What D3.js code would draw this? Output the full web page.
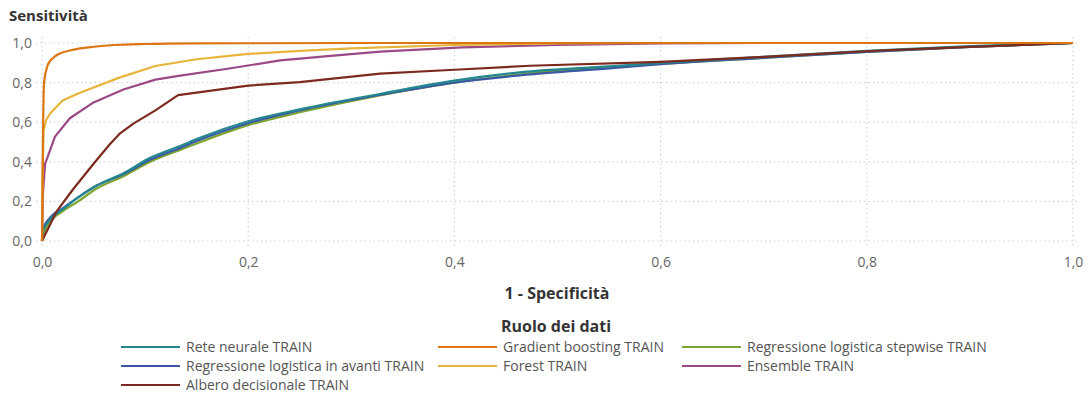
<!DOCTYPE html>
<html>
<head>
<meta charset="utf-8">
<script src="https://cdn.jsdelivr.net/npm/d3@7"></script>
<style>
  html, body { margin: 0; padding: 0; background: #fff; }
  svg { display: block; font-family: "Open Sans", Lato, sans-serif; }
</style>
</head>
<body>
<svg id="chart" width="1091" height="397"></svg>
<script>
// ROC curves (1 - specificity, sensitivity) for each model on the training partition
const seriesNames = [
  "Rete neurale TRAIN",
  "Gradient boosting TRAIN",
  "Regressione logistica stepwise TRAIN",
  "Regressione logistica in avanti TRAIN",
  "Forest TRAIN",
  "Ensemble TRAIN",
  "Albero decisionale TRAIN"
];
const seriesColors = ["#23878f", "#dc7612", "#7ba52f", "#3b58a4", "#e6b43a", "#9a4886", "#7c2a1d"];

const reteNeurale = [[0,0],[0.001,0.05],[0.005,0.09],[0.01,0.12],[0.02,0.16],[0.035,0.22],[0.053,0.28],[0.08,0.345],[0.105,0.42],[0.134,0.48],[0.15,0.515],[0.2,0.605],[0.25,0.665],[0.33,0.745],[0.4,0.81],[0.47,0.855],[0.55,0.882],[0.6,0.9],[0.7,0.93],[0.8,0.96],[0.9,0.984],[1,1]];
const gradientBoosting = [[0,0],[0.001,0.55],[0.002,0.8],[0.005,0.88],[0.008,0.91],[0.012,0.93],[0.018,0.948],[0.027,0.962],[0.037,0.973],[0.05,0.981],[0.07,0.99],[0.1,0.995],[0.15,0.998],[0.3,1],[1,1]];
const regStepwise = [[0,0],[0.002,0.04],[0.01,0.11],[0.02,0.15],[0.035,0.2],[0.053,0.265],[0.08,0.33],[0.105,0.4],[0.134,0.46],[0.2,0.585],[0.25,0.65],[0.33,0.738],[0.4,0.8],[0.5,0.86],[0.6,0.895],[0.7,0.925],[0.8,0.955],[0.9,0.98],[1,1]];
const regAvanti = [[0,0],[0.001,0.06],[0.005,0.1],[0.01,0.13],[0.02,0.165],[0.035,0.22],[0.053,0.28],[0.08,0.34],[0.105,0.41],[0.134,0.47],[0.15,0.505],[0.2,0.595],[0.25,0.66],[0.33,0.74],[0.4,0.8],[0.47,0.84],[0.55,0.872],[0.6,0.893],[0.7,0.925],[0.8,0.955],[0.9,0.98],[1,1]];
const forest = [[0,0],[0.0005,0.3],[0.0015,0.56],[0.004,0.61],[0.008,0.645],[0.02,0.71],[0.035,0.745],[0.05,0.775],[0.075,0.825],[0.11,0.884],[0.15,0.918],[0.2,0.945],[0.25,0.96],[0.3,0.973],[0.4,0.99],[0.5,0.998],[0.6,1],[1,1]];
const ensemble = [[0,0],[0.001,0.25],[0.003,0.39],[0.0126,0.527],[0.027,0.62],[0.05,0.70],[0.079,0.765],[0.11,0.815],[0.134,0.835],[0.18,0.87],[0.231,0.912],[0.28,0.935],[0.328,0.956],[0.408,0.978],[0.5,0.99],[0.6,0.998],[0.7,1],[1,1]];
const albero = [[0,0],[0.014,0.148],[0.03,0.26],[0.05,0.39],[0.066,0.49],[0.076,0.545],[0.089,0.594],[0.11,0.66],[0.132,0.737],[0.2,0.785],[0.25,0.802],[0.328,0.845],[0.4,0.865],[0.473,0.885],[0.6,0.905],[0.7,0.93],[0.813,0.962],[0.9,0.98],[1,1]];

const seriesData = [reteNeurale, gradientBoosting, regStepwise, regAvanti, forest, ensemble, albero];
// tree-based models have few thresholds, so their curves use straight segments
const seriesCurves = [d3.curveMonotoneX, d3.curveMonotoneX, d3.curveMonotoneX, d3.curveMonotoneX, d3.curveLinear, d3.curveLinear, d3.curveLinear];
// draw order: lower curves first, so the upper ones stay visible
const drawOrder = [2, 3, 0, 6, 5, 4, 1];

const xTicks = [0, 0.2, 0.4, 0.6, 0.8, 1.0];
const yTicks = [0, 0.2, 0.4, 0.6, 0.8, 1.0];

const svg = d3.select("#chart");
const x = d3.scaleLinear().domain([0, 1]).range([42, 1073]);
const y = d3.scaleLinear().domain([0, 1]).range([241, 43]);
const fmt = v => d3.format(".1f")(v).replace(".", ",");

// dotted grid
const grid = svg.append("g").attr("stroke", "#d4d4d4").attr("stroke-width", 1.2).attr("stroke-dasharray", "1.5,3");
grid.selectAll(".gx").data(xTicks).join("line")
  .attr("x1", d => x(d)).attr("x2", d => x(d)).attr("y1", y(1) - 6).attr("y2", y(0) + 6);
grid.selectAll(".gy").data(yTicks).join("line")
  .attr("x1", x(0) - 6).attr("x2", x(1) + 6).attr("y1", d => y(d)).attr("y2", d => y(d));

// axes (tick labels only)
const xAxis = svg.append("g").attr("transform", `translate(0,${y(0) + 10})`)
  .call(d3.axisBottom(x).tickValues(xTicks).tickFormat(fmt).tickSize(0).tickPadding(6));
const yAxis = svg.append("g").attr("transform", `translate(${x(0) - 10},0)`)
  .call(d3.axisLeft(y).tickValues(yTicks).tickFormat(fmt).tickSize(0).tickPadding(0));
[xAxis, yAxis].forEach(a => {
  a.select(".domain").remove();
  a.selectAll("text").attr("fill", "#666").style("font-size", "14px").style("font-family", "\"Open Sans\", sans-serif");
});

// ROC curves
svg.append("g").selectAll("path").data(drawOrder).join("path")
  .attr("d", i => d3.line().x(d => x(d[0])).y(d => y(d[1])).curve(seriesCurves[i])(seriesData[i]))
  .attr("fill", "none")
  .attr("stroke", i => seriesColors[i])
  .attr("stroke-width", 2.2)
  .attr("stroke-linejoin", "round");

// titles
svg.append("text").attr("x", 9).attr("y", 21).text("Sensitività")
  .attr("fill", "#333").style("font-size", "15px").style("font-weight", "700");
svg.append("text").attr("x", 557).attr("y", 299).attr("text-anchor", "middle").text("1 - Specificità")
  .attr("fill", "#333").style("font-size", "16px").style("font-weight", "700");

// legend
svg.append("text").attr("x", 556).attr("y", 332).attr("text-anchor", "middle").text("Ruolo dei dati")
  .attr("fill", "#333").style("font-size", "16px").style("font-weight", "700");
const colX = [121, 438, 682];
const rowY = [347, 366, 385];
const legend = svg.append("g").selectAll("g").data(seriesNames).join("g")
  .attr("transform", (d, i) => `translate(${colX[i % 3]},${rowY[Math.floor(i / 3)]})`);
legend.append("line").attr("x1", 0).attr("x2", 59).attr("y1", 0).attr("y2", 0)
  .attr("stroke", (d, i) => seriesColors[i]).attr("stroke-width", 2.2);
legend.append("text").attr("x", 65).attr("y", 5).text(d => d)
  .attr("fill", "#555").style("font-size", "14px");
</script>
</body>
</html>
